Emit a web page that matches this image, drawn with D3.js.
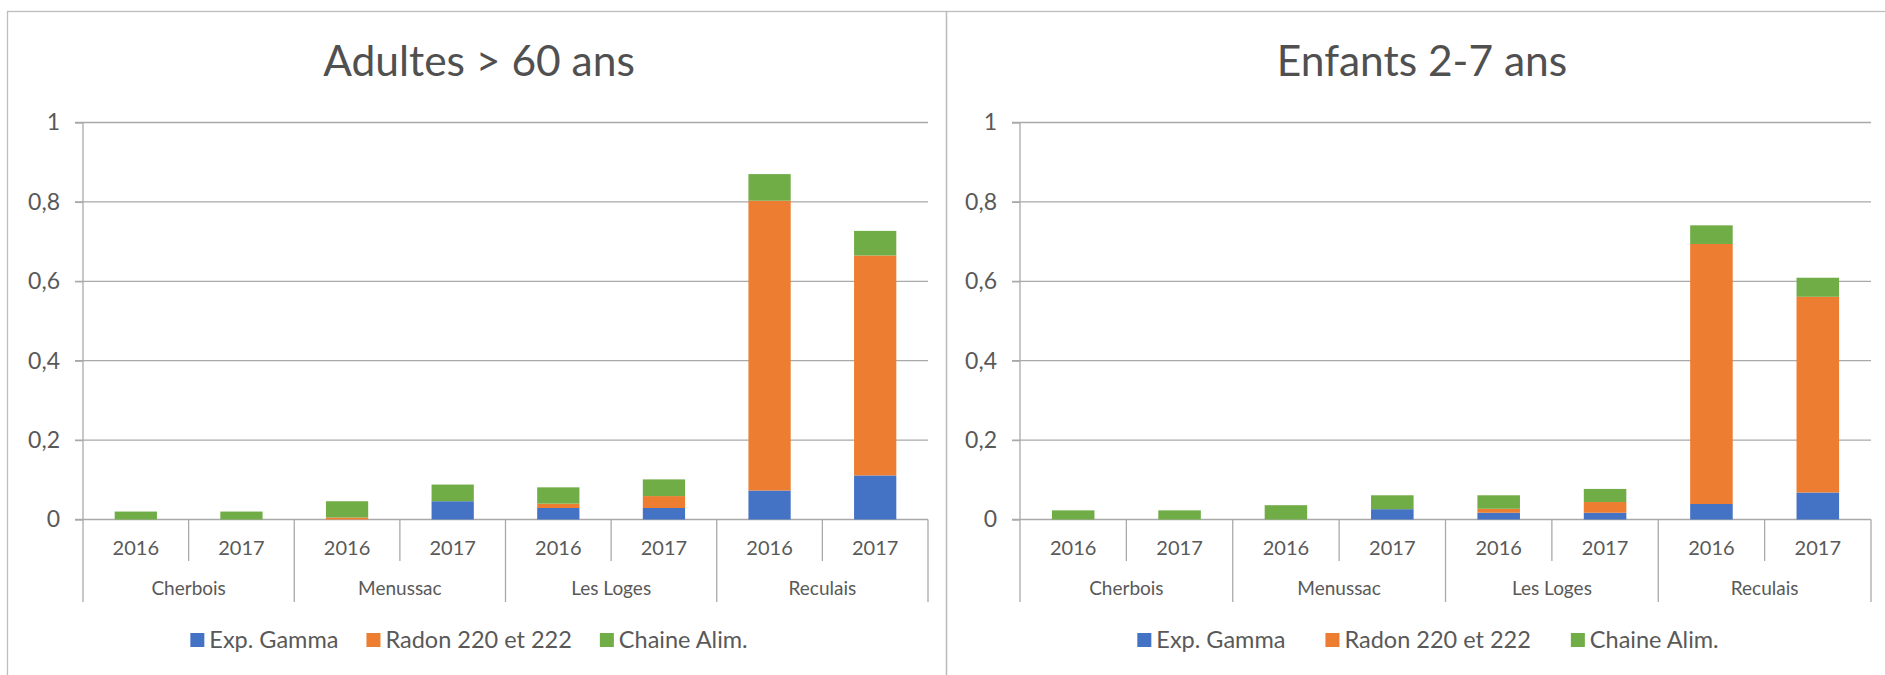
<!DOCTYPE html>
<html><head><meta charset="utf-8">
<script src="https://cdn.jsdelivr.net/npm/d3@7"></script>
<style>
html,body{margin:0;padding:0;background:#fff;}
svg{display:block;}
text{font-family:Lato,"Open Sans",sans-serif;fill:#595959;}
</style></head>
<body>
<svg id="c" width="1885" height="675"></svg>
<script>
// ---- data ----
const sites = ["Cherbois", "Menussac", "Les Loges", "Reculais"];
const years = ["2016", "2017"];
const seriesNames = ["Exp. Gamma", "Radon 220 et 222", "Chaine Alim."];
const seriesColors = ["#4472C4", "#ED7D31", "#70AD47"];
const yTickValues = [0, 0.2, 0.4, 0.6, 0.8, 1];

const titleAdults = "Adultes > 60 ans";
const adultsGamma = [0, 0, 0, 0.046, 0.029, 0.029, 0.073, 0.111];
const adultsRadon = [0, 0, 0.005, 0, 0.011, 0.030, 0.730, 0.554];
const adultsFood  = [0.020, 0.020, 0.041, 0.042, 0.041, 0.042, 0.067, 0.062];

const titleChildren = "Enfants 2-7 ans";
const childrenGamma = [0, 0, 0, 0.026, 0.017, 0.017, 0.039, 0.068];
const childrenRadon = [0, 0, 0, 0, 0.010, 0.027, 0.655, 0.493];
const childrenFood  = [0.023, 0.023, 0.036, 0.035, 0.034, 0.033, 0.047, 0.048];

// ---- drawing ----
const svg = d3.select("#c");
const locale = d3.formatLocale({decimal: ",", thousands: " ", grouping: [3], currency: ["", " €"]});
const fmt = locale.format(".1~f");
const gridColor = "#a9a9a9";
const frameColor = "#bdbdbd";

const categories = [];
sites.forEach(s => years.forEach(y => categories.push(s + "|" + y)));

function drawChart(cfg) {
  const g = svg.append("g");
  const y0px = 519.5, y1px = 122.5;
  const y = d3.scaleLinear().domain([0, 1]).range([y0px, y1px]);
  const xCell = d3.scaleBand().domain(categories).range([cfg.plotX0, cfg.plotX1]).padding(0);
  const xBar = d3.scaleBand().domain(categories).range([cfg.plotX0, cfg.plotX1]).paddingInner(0.6).paddingOuter(0.3);
  const xGroup = d3.scaleBand().domain(sites).range([cfg.plotX0, cfg.plotX1]).padding(0);
  const step = xCell.step();

  // frame
  g.append("rect").attr("x", cfg.frameX0 + 0.5).attr("y", 11.5)
    .attr("width", cfg.frameX1 - cfg.frameX0).attr("height", 720)
    .attr("fill", "none").attr("stroke", frameColor).attr("stroke-width", 1.3);

  // title
  g.append("text").attr("x", cfg.titleX).attr("y", 76).attr("text-anchor", "middle")
    .style("font-size", "42.5px").style("font-weight", 400).style("fill", "#505050")
    .text(cfg.title);

  // gridlines
  g.selectAll("line.grid").data(yTickValues).join("line").attr("class", "grid")
    .attr("x1", cfg.plotX0 - 8).attr("x2", cfg.plotX1)
    .attr("y1", d => y(d)).attr("y2", d => y(d))
    .attr("stroke", gridColor).attr("stroke-width", 1.3);

  // y axis
  const ax = g.append("g").attr("transform", `translate(${cfg.plotX0},0)`)
    .call(d3.axisLeft(y).tickValues(yTickValues).tickFormat(fmt).tickSize(8).tickPadding(15));
  ax.select(".domain").remove();
  ax.selectAll(".tick line").attr("stroke", gridColor).attr("stroke-width", 1.3);
  ax.selectAll(".tick text").style("font-size", "23px").attr("fill", "#595959")
    .style("font-family", "Lato, sans-serif");

  // vertical axis line
  g.append("line").attr("x1", cfg.plotX0).attr("x2", cfg.plotX0)
    .attr("y1", y(1)).attr("y2", 602).attr("stroke", gridColor).attr("stroke-width", 1.3);

  // category dividers
  categories.forEach((c, i) => {
    const x = xCell(c) + step;
    const isGroupEnd = (i % years.length) === years.length - 1;
    g.append("line").attr("x1", x).attr("x2", x)
      .attr("y1", y0px).attr("y2", isGroupEnd ? 602 : 561)
      .attr("stroke", gridColor).attr("stroke-width", 1.3);
  });

  // year labels
  g.selectAll("text.year").data(categories).join("text").attr("class", "year")
    .attr("x", d => xCell(d) + step / 2).attr("y", 555).attr("text-anchor", "middle")
    .style("font-size", "20px").text(d => d.split("|")[1]);
  // site labels
  g.selectAll("text.site").data(sites).join("text").attr("class", "site")
    .attr("x", d => xGroup(d) + xGroup.bandwidth() / 2).attr("y", 595).attr("text-anchor", "middle")
    .style("font-size", "19px").text(d => d);

  // bars
  const rows = categories.map((c, i) => ({cat: c, s0: cfg.gamma[i], s1: cfg.radon[i], s2: cfg.food[i]}));
  const stack = d3.stack().keys(["s0", "s1", "s2"])(rows);
  stack.forEach((layer, li) => {
    g.append("g").attr("fill", seriesColors[li]).selectAll("rect").data(layer).join("rect")
      .attr("x", d => xBar(d.data.cat)).attr("width", xBar.bandwidth())
      .attr("y", d => y(d[1])).attr("height", d => Math.max(0, y(d[0]) - y(d[1])));
  });

  // legend
  const lg = g.append("g");
  const items = lg.selectAll("g").data(seriesNames).join("g");
  items.append("rect").attr("width", 14).attr("height", 14).attr("y", 633)
    .attr("fill", (d, i) => seriesColors[i]);
  items.append("text").attr("x", 19).attr("y", 648).style("font-size", "23.5px").text(d => d);
  const widths = [];
  items.each(function () { widths.push(19 + this.querySelector("text").getComputedTextLength()); });
  const gap = cfg.legendGap;
  const total = d3.sum(widths) + gap * (widths.length - 1);
  let cx = cfg.legendX - total / 2;
  items.attr("transform", (d, i) => { const t = `translate(${cx},0)`; cx += widths[i] + gap; return t; });
}

drawChart({title: titleAdults, frameX0: 7, frameX1: 946, plotX0: 83, plotX1: 928, titleX: 479,
  legendX: 469, legendGap: 28,
  gamma: adultsGamma, radon: adultsRadon, food: adultsFood});
drawChart({title: titleChildren, frameX0: 946, frameX1: 1900, plotX0: 1020, plotX1: 1871, titleX: 1422,
  legendX: 1428, legendGap: 40,
  gamma: childrenGamma, radon: childrenRadon, food: childrenFood});
</script>
</body></html>
